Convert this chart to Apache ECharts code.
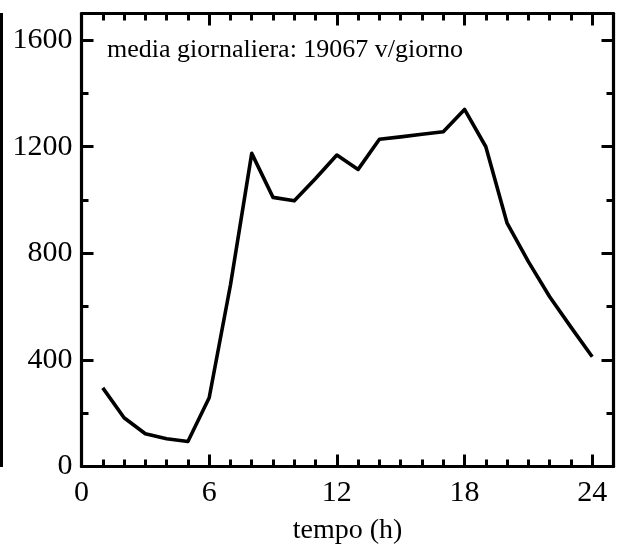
<!DOCTYPE html>
<html>
<head>
<meta charset="utf-8">
<script src="https://cdn.jsdelivr.net/npm/echarts@6/dist/echarts.min.js"></script>
<style>
body{margin:0;background:#fff}
#chart{width:619px;height:547px}
</style>
</head>
<body>
<div id="chart"></div>
<script>
// ore del giorno e flusso orario (v/h)
var hours = [1,2,3,4,5,6,7,8,9,10,11,12,13,14,15,16,17,18,19,20,21,22,23,24];
var flow = [295,183,123,104,94,258,681,1175,1010,997,1081,1169,1115,1228,1237,1247,1256,1340,1200,913,769,637,523,412];
var xMajor = [0,6,12,18,24];
var xMinor = [1,2,3,4,5,7,8,9,10,11,13,14,15,16,17,19,20,21,22,23];
var yMajor = [0,400,800,1200,1600];
var yMinor = [200,600,1000,1400];
var note = 'media giornaliera: 19067 v/giorno';

var font = 'Liberation Serif';
var black = '#000';

function xAx(pos, ticks, len, line, labels){
  return {
    type:'value', position:pos, min:0, max:25,
    axisLine:{show:line, onZero:false, lineStyle:{color:black, width:3.2}},
    axisTick:{inside:true, length:len, customValues:ticks, lineStyle:{color:black, width:3}},
    axisLabel:labels ? {customValues:ticks, fontSize:30, fontFamily:font, color:black, margin:12} : {show:false},
    splitLine:{show:false}
  };
}
function yAx(pos, ticks, len, line, labels){
  return {
    type:'value', position:pos, min:0, max:1700,
    axisLine:{show:line, onZero:false, lineStyle:{color:black, width:3.2}},
    axisTick:{inside:true, length:len, customValues:ticks, lineStyle:{color:black, width:3}},
    axisLabel:labels ? {customValues:ticks, fontSize:30, fontFamily:font, color:black, margin:9,
      formatter:function(v){return String(v);}} : {show:false},
    splitLine:{show:false}
  };
}

var xBottom = xAx('bottom', xMajor, 12, true, true);
xBottom.name = 'tempo (h)';
xBottom.nameLocation = 'middle';
xBottom.nameGap = 50;
xBottom.nameTextStyle = {fontSize:28, fontFamily:font, color:black};

var option = {
  animation:false,
  grid:{left:81.5, right:5.5, top:13.5, bottom:80.5, outerBoundsMode:'none'},
  xAxis:[
    xBottom,
    xAx('bottom', xMinor, 7, false, false),
    xAx('top', xMajor, 12, true, false),
    xAx('top', xMinor, 7, false, false)
  ],
  yAxis:[
    yAx('left', yMajor, 12, true, true),
    yAx('left', yMinor, 7, false, false),
    yAx('right', yMajor, 12, true, false),
    yAx('right', yMinor, 7, false, false)
  ],
  graphic:[
    {type:'rect', shape:{x:0, y:13, width:3, height:454}, style:{fill:black}},
    {type:'text', x:107, y:50, style:{text:note, fontSize:26, fontFamily:font, fill:black, verticalAlign:'middle'}}
  ],
  series:[{
    type:'line',
    data:hours.map(function(h,i){return [h, flow[i]];}),
    showSymbol:false,
    lineStyle:{color:black, width:3.6, join:'round'}
  }]
};

var myChart = echarts.init(document.getElementById('chart'));
myChart.setOption(option);
</script>
</body>
</html>
